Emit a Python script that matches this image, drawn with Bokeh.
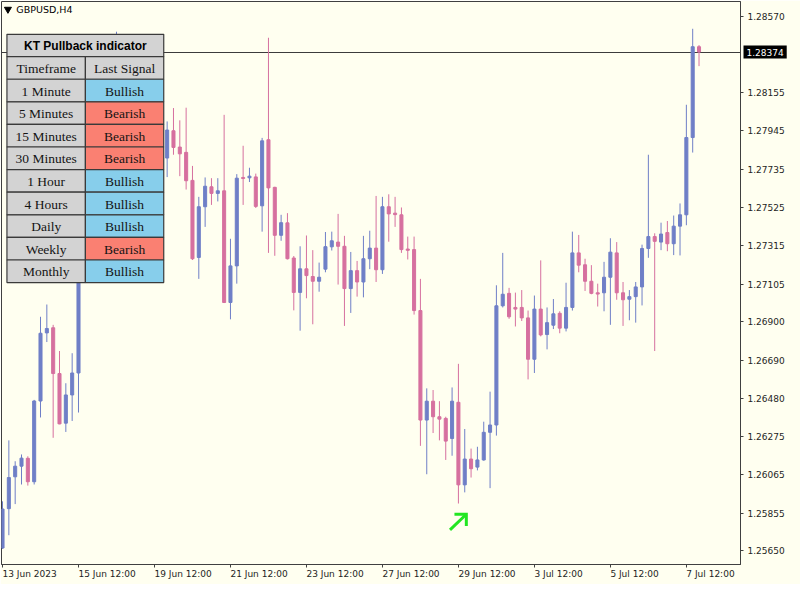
import numpy as np
from bokeh.plotting import figure
from bokeh.models import (Range1d, FixedTicker, PrintfTickFormatter, Label, LinearAxis,
                          CustomJSTickFormatter, ColumnDataSource)
from bokeh.core.properties import value
from bokeh.embed import file_html
from bokeh.resources import INLINE

# ---------------- data ----------------
symbol = "GBPUSD,H4"

opens = [1.25665, 1.25880, 1.26054, 1.26112, 1.26155, 1.26027, 1.26468, 1.26840, 1.26868, 1.26618,
         1.26347, 1.26501, 1.26621, 1.27197, 1.27463, 1.27597, 1.27543, 1.27862, 1.28155, 1.28341,
         1.28182, 1.28102, 1.28155, 1.28049, 1.27969, 1.28022, 1.27795, 1.27944, 1.27855, 1.27826,
         1.27673, 1.27252, 1.27529, 1.27638, 1.27602, 1.27616, 1.27006, 1.27206, 1.27689, 1.27687,
         1.27692, 1.27534, 1.27895, 1.27635, 1.27373, 1.27441, 1.27249, 1.27061, 1.27190, 1.27148,
         1.27122, 1.27188, 1.27310, 1.27336, 1.27313, 1.27082, 1.27180, 1.27118, 1.27245, 1.27303,
         1.27185, 1.27529, 1.27494, 1.27485, 1.27298, 1.27295, 1.26962, 1.26364, 1.26467, 1.26382,
         1.26373, 1.26263, 1.26461, 1.26010, 1.26151, 1.26107, 1.26146, 1.26297, 1.26337, 1.26988,
         1.27056, 1.26979, 1.26979, 1.26922, 1.26696, 1.26970, 1.26831, 1.26882, 1.26947, 1.26866,
         1.26979, 1.27277, 1.27212, 1.27122, 1.27059, 1.27059, 1.27144, 1.27277, 1.27059, 1.27024,
         1.27038, 1.27091, 1.27301, 1.27366, 1.27336, 1.27388, 1.27327, 1.27423, 1.27485, 1.27907,
         1.28403]
highs = [1.25920, 1.26253, 1.26139, 1.26176, 1.26166, 1.26474, 1.26928, 1.26995, 1.26884, 1.26741,
         1.26565, 1.26729, 1.27235, 1.27516, 1.27650, 1.27676, 1.27916, 1.28208, 1.28485, 1.28394,
         1.28261, 1.28208, 1.28235, 1.28102, 1.28075, 1.28049, 1.27995, 1.28068, 1.28001, 1.28070,
         1.27752, 1.27583, 1.27689, 1.27685, 1.27685, 1.28031, 1.27354, 1.27707, 1.27862, 1.27742,
         1.27710, 1.27905, 1.28452, 1.27638, 1.27485, 1.27494, 1.27260, 1.27313, 1.27372, 1.27292,
         1.27224, 1.27391, 1.27393, 1.27490, 1.27370, 1.27282, 1.27233, 1.27370, 1.27398, 1.27588,
         1.27583, 1.27597, 1.27583, 1.27525, 1.27366, 1.27366, 1.27135, 1.26537, 1.26528, 1.26467,
         1.26382, 1.26542, 1.26671, 1.26315, 1.26208, 1.26218, 1.26355, 1.26519, 1.27100, 1.27277,
         1.27086, 1.27060, 1.27074, 1.26962, 1.27044, 1.27236, 1.26979, 1.27025, 1.26958, 1.27114,
         1.27393, 1.27375, 1.27245, 1.27210, 1.27109, 1.27228, 1.27357, 1.27336, 1.27118, 1.27074,
         1.27118, 1.27322, 1.27813, 1.27384, 1.27442, 1.27451, 1.27481, 1.27547, 1.28086, 1.28501,
         1.28412]
lows = [1.25660, 1.25735, 1.25905, 1.26012, 1.26006, 1.26012, 1.26378, 1.26790, 1.26267, 1.26341,
        1.26299, 1.26359, 1.26405, 1.27144, 1.27410, 1.27490, 1.27516, 1.27809, 1.28128, 1.28075,
        1.28022, 1.28049, 1.27996, 1.27916, 1.27889, 1.27783, 1.27691, 1.27813, 1.27696, 1.27623,
        1.27238, 1.27135, 1.27419, 1.27539, 1.27558, 1.27003, 1.26914, 1.27109, 1.27539, 1.27664,
        1.27522, 1.27393, 1.27277, 1.27261, 1.27343, 1.27241, 1.26963, 1.26852, 1.27029, 1.26887,
        1.27065, 1.27171, 1.27290, 1.27104, 1.26878, 1.26949, 1.27038, 1.27034, 1.27188, 1.27118,
        1.27162, 1.27338, 1.27419, 1.27277, 1.27241, 1.26940, 1.26223, 1.26068, 1.26293, 1.26253,
        1.26146, 1.26169, 1.25908, 1.25969, 1.26050, 1.26089, 1.26142, 1.25992, 1.26279, 1.26979,
        1.26917, 1.26875, 1.26905, 1.26586, 1.26621, 1.26821, 1.26750, 1.26861, 1.26838, 1.26848,
        1.26962, 1.27171, 1.27069, 1.27051, 1.26984, 1.26958, 1.26884, 1.27021, 1.26878, 1.26909,
        1.26896, 1.26990, 1.27250, 1.26741, 1.27292, 1.27286, 1.27265, 1.27263, 1.27428, 1.27825,
        1.28297]
closes = [1.25878, 1.26050, 1.26112, 1.26156, 1.26027, 1.26468, 1.26838, 1.26864, 1.26618, 1.26343,
          1.26501, 1.26621, 1.27197, 1.27463, 1.27597, 1.27543, 1.27862, 1.28155, 1.28341, 1.28182,
          1.28102, 1.28155, 1.28049, 1.27969, 1.28022, 1.27809, 1.27948, 1.27853, 1.27818, 1.27671,
          1.27245, 1.27529, 1.27641, 1.27602, 1.27616, 1.27006, 1.27206, 1.27685, 1.27683, 1.27696,
          1.27531, 1.27889, 1.27632, 1.27373, 1.27442, 1.27245, 1.27061, 1.27190, 1.27153, 1.27122,
          1.27144, 1.27311, 1.27343, 1.27313, 1.27082, 1.27180, 1.27118, 1.27245, 1.27303, 1.27185,
          1.27529, 1.27490, 1.27486, 1.27295, 1.27291, 1.26962, 1.26364, 1.26467, 1.26382, 1.26369,
          1.26249, 1.26467, 1.26010, 1.26151, 1.26098, 1.26146, 1.26297, 1.26337, 1.26988, 1.27051,
          1.26928, 1.26970, 1.26922, 1.26696, 1.26970, 1.26829, 1.26896, 1.26944, 1.26866, 1.26979,
          1.27277, 1.27210, 1.27122, 1.27056, 1.27052, 1.27144, 1.27281, 1.27059, 1.27021, 1.27038,
          1.27091, 1.27301, 1.27366, 1.27340, 1.27380, 1.27327, 1.27423, 1.27485, 1.27907, 1.28403,
          1.28374]

x_tick_bars = [0, 12, 24, 36, 48, 60, 72, 84, 96, 108]
x_tick_labels = ["13 Jun 2023", "15 Jun 12:00", "19 Jun 12:00", "21 Jun 12:00", "23 Jun 12:00",
                 "27 Jun 12:00", "29 Jun 12:00", "3 Jul 12:00", "5 Jul 12:00", "7 Jul 12:00"]
price_ticks = [1.28570, 1.28155, 1.27945, 1.27735, 1.27525, 1.27315, 1.27105, 1.26900,
               1.26690, 1.26480, 1.26275, 1.26065, 1.25855, 1.25650]
last_price = 1.28374
signal_bar = 72

table_title = "KT Pullback indicator"
table_columns = ["Timeframe", "Last Signal"]
timeframes = ["1 Minute", "5 Minutes", "15 Minutes", "30 Minutes", "1 Hour", "4 Hours",
              "Daily", "Weekly", "Monthly"]
signals = ["Bullish", "Bearish", "Bearish", "Bearish", "Bullish", "Bullish", "Bullish",
           "Bearish", "Bullish"]

# ---------------- styles ----------------
BG = "#FFFFF0"
BULL = "#6F7FC7"
BEAR = "#D6709F"
AXIS_C = "#404040"
TXT_C = "#1E1E1E"
GRAY = "#D3D3D3"
SIG_COL = {"Bullish": "#87CEEB", "Bearish": "#FA8072"}
FONT = "DejaVu Sans"
AX_FS = 9  # px

FRAME_W, FRAME_H = 739, 563
X0, X1 = -0.16, 116.55
Y0, Y1 = 1.25575, 1.28650

o = np.array(opens); h = np.array(highs); l = np.array(lows); c = np.array(closes)
idx = np.arange(len(o))
col = np.where(c >= o, BULL, BEAR)
src = ColumnDataSource(dict(x=idx, h=h, l=l, top=np.maximum(o, c), bottom=np.minimum(o, c), color=col))

p = figure(frame_width=FRAME_W, frame_height=FRAME_H,
           x_range=Range1d(X0, X1), y_range=Range1d(Y0, Y1),
           output_backend="svg", toolbar_location=None,
           x_axis_location="below", y_axis_location="right",
           background_fill_color=BG, border_fill_color=BG,
           min_border_left=1, min_border_top=1, min_border_right=44, min_border_bottom=20)
p.grid.visible = False
p.outline_line_color = AXIS_C

# right price axis
ya = p.yaxis[0]
ya.ticker = FixedTicker(ticks=price_ticks)
ya.formatter = PrintfTickFormatter(format="%.5f")
ya.major_tick_out = 3
ya.major_tick_in = 0
ya.minor_tick_line_color = None
ya.major_label_standoff = 4
ya.axis_line_color = AXIS_C
ya.major_tick_line_color = AXIS_C
ya.major_label_text_font = FONT
ya.major_label_text_font_size = f"{AX_FS}px"
ya.major_label_text_color = TXT_C

# bottom time axis: tick marks only
xa = p.xaxis[0]
xa.ticker = FixedTicker(ticks=x_tick_bars)
xa.formatter = CustomJSTickFormatter(code="return ''")
xa.major_tick_out = 3
xa.major_tick_in = 0
xa.minor_tick_line_color = None
xa.major_label_standoff = 0
xa.major_label_text_font_size = "1px"
xa.axis_line_color = AXIS_C
xa.major_tick_line_color = AXIS_C

# second bottom axis carrying the labels, shifted so each label starts at its tick
CHAR_EM = {"0": .636, "1": .636, "2": .636, "3": .636, "4": .636, "5": .636, "6": .636,
           "7": .636, "8": .636, "9": .636, " ": .318, ":": .337, "J": .295, "u": .634,
           "n": .634, "l": .278}
px_per_bar = FRAME_W / (X1 - X0)
label_pos = [round(t + sum(CHAR_EM.get(ch, .6) for ch in lab) * AX_FS / 2 / px_per_bar, 4)
             for t, lab in zip(x_tick_bars, x_tick_labels)]
xa2 = LinearAxis(ticker=FixedTicker(ticks=label_pos),
                 formatter=CustomJSTickFormatter(
                     args=dict(pos=label_pos, labels=x_tick_labels),
                     code="""
                     let best = 0, bd = 1e9;
                     for (let i = 0; i < pos.length; i++) {
                       const d = Math.abs(pos[i] - tick);
                       if (d < bd) { bd = d; best = i; }
                     }
                     return labels[best];
                     """),
                 major_tick_out=0, major_tick_in=0, minor_tick_line_color=None,
                 axis_line_color=None, major_tick_line_color=None,
                 major_label_standoff=1, major_label_text_font=FONT,
                 major_label_text_font_size=f"{AX_FS}px", major_label_text_color=TXT_C)
p.add_layout(xa2, "below")

# current price line (under candles)
p.hspan(y=[last_price], line_color="#3C3C3C", line_width=1)

# candles
p.segment(x0="x", y0="h", x1="x", y1="l", source=src, line_color="color", line_width=1)
p.vbar(x="x", top="top", bottom="bottom", width=0.48, source=src,
       fill_color="color", line_color="color", line_width=1)

# buy-signal arrow below the signal bar
BAR_PX = 6.4
PX_PRICE = 0.0000532
sx = signal_bar
sy = lows[signal_bar]
tip_x = sx + 8 / BAR_PX
tip_y = sy - 11 * PX_PRICE
tail_x = sx - 8.5 / BAR_PX
tail_y = sy - 27 * PX_PRICE
arm = 12
p.multi_line(xs=[[tail_x, tip_x], [tip_x - arm / BAR_PX, tip_x, tip_x]],
             ys=[[tail_y, tip_y], [tip_y, tip_y, tip_y - arm * PX_PRICE]],
             line_color="#22E622", line_width=3, line_join="miter")

# price tag on the axis (side panel annotation, so it is not clipped to the frame)
p.add_layout(Label(x=-44, y=last_price, x_units="screen", y_units="data",
                   text=f"{last_price:.5f}", text_font=FONT, text_font_size=f"{AX_FS}px",
                   text_color="white", text_align="left", text_baseline="middle",
                   background_fill_color="black", padding=3), "right")

# ---------------- overlay in panel pixels ----------------
TX, TY = "tbl_x", "tbl_y"
p.extra_x_ranges = {TX: Range1d(2, 749)}
p.extra_y_ranges = {TY: Range1d(580, 2)}

# symbol caption
p.scatter(x=[8.5], y=[10], marker="inverted_triangle", size=7, color="black",
          x_range_name=TX, y_range_name=TY)
p.text(x=[17], y=[10], text=[symbol], text_font=value(FONT), text_font_size="9.5px",
       text_color="black", text_align="left", text_baseline="middle",
       x_range_name=TX, y_range_name=TY)

# table
L, M, R = 7.5, 86.8, 166.0
T_TOP, T_BOT = 35.7, 58.6
ROW0, PITCH = 58.6, 23.2
BORDER = "#3A3A3A"

p.quad(left=[L], right=[R], top=[T_TOP], bottom=[T_BOT], fill_color=GRAY,
       line_color=BORDER, line_width=1.2, x_range_name=TX, y_range_name=TY)
p.text(x=[(L + R) / 2], y=[(T_TOP + T_BOT) / 2 + 0.5], text=[table_title],
       text_font=value("Liberation Sans"), text_font_style="bold", text_font_size="12px",
       text_color="black", text_align="center", text_baseline="middle",
       x_range_name=TX, y_range_name=TY)

left_txt = [table_columns[0]] + timeframes
right_txt = [table_columns[1]] + signals
right_fill = [GRAY] + [SIG_COL[s] for s in signals]
tops = [ROW0 + PITCH * r for r in range(len(left_txt))]
bots = [t + PITCH for t in tops]
mids = [(a + b) / 2 + 0.5 for a, b in zip(tops, bots)]

p.quad(left=[L] * len(tops), right=[M] * len(tops), top=tops, bottom=bots,
       fill_color=GRAY, line_color=BORDER, line_width=1.2, x_range_name=TX, y_range_name=TY)
p.quad(left=[M] * len(tops), right=[R] * len(tops), top=tops, bottom=bots,
       fill_color=right_fill, line_color=BORDER, line_width=1.2, x_range_name=TX, y_range_name=TY)
p.text(x=[(L + M) / 2] * len(tops), y=mids, text=left_txt,
       text_font=value("Liberation Serif"), text_font_size="13.5px", text_color="#141414",
       text_align="center", text_baseline="middle", x_range_name=TX, y_range_name=TY)
p.text(x=[(M + R) / 2] * len(tops), y=mids, text=right_txt,
       text_font=value("Liberation Serif"), text_font_size="13.5px", text_color="#141414",
       text_align="center", text_baseline="middle", x_range_name=TX, y_range_name=TY)

open("out.html", "w").write(file_html(p, INLINE))
